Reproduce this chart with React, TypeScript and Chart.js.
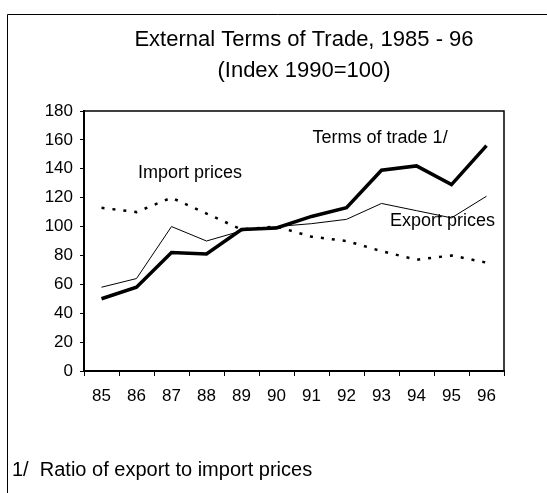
import React, { useEffect, useRef } from "react";
import { Chart, registerables } from "chart.js";

Chart.register(...registerables);

const years = ["85", "86", "87", "88", "89", "90", "91", "92", "93", "94", "95", "96"];
const termsOfTrade = [50, 58, 82, 81, 98, 99, 107, 113, 139, 142, 129, 156];
const exportPrices = [58, 64, 100, 90, 97, 100, 102, 105, 116, 111, 106, 121];
const importPrices = [113, 110, 120, 109, 98, 100, 93, 90, 83, 77, 80, 75];

const titleText = "External Terms of Trade, 1985 - 96";
const subtitleText = "(Index 1990=100)";
const footnoteText = "1/  Ratio of export to import prices";

// series labels placed in data coordinates (category index, value)
const seriesLabels = [
  { text: "Terms of trade 1/", idx: 7.96, val: 161 },
  { text: "Import prices", idx: 2.53, val: 137 },
  { text: "Export prices", idx: 9.74, val: 104 },
];

const FONT = "'Liberation Sans', Arial, sans-serif";

const textPlugin = {
  id: "texts",
  afterDraw(chart: any) {
    const ctx = chart.ctx;
    const { top, right, bottom, left } = chart.chartArea;
    ctx.save();
    // plot box top and right
    ctx.strokeStyle = "#000";
    ctx.lineWidth = 1.5;
    ctx.beginPath();
    ctx.moveTo(left, top);
    ctx.lineTo(right, top);
    ctx.lineTo(right, bottom);
    ctx.stroke();

    // outer frame
    ctx.lineWidth = 1;
    ctx.beginPath();
    ctx.moveTo(7.5, 493);
    ctx.lineTo(7.5, 14.5);
    ctx.lineTo(547, 14.5);
    ctx.stroke();

    ctx.fillStyle = "#000";
    ctx.textAlign = "center";
    ctx.textBaseline = "alphabetic";
    ctx.font = `22px ${FONT}`;
    ctx.fillText(titleText, 304, 46);
    ctx.fillText(subtitleText, 304, 77);

    ctx.font = `18px ${FONT}`;
    ctx.textBaseline = "middle";
    const xs = chart.scales.x;
    const ys = chart.scales.y;
    for (const l of seriesLabels) {
      ctx.fillText(l.text, xs.getPixelForValue(l.idx), ys.getPixelForValue(l.val));
    }

    ctx.textAlign = "left";
    ctx.textBaseline = "alphabetic";
    ctx.font = `20px ${FONT}`;
    ctx.fillText(footnoteText, 12, 476);
    ctx.restore();
  },
};

export default function App() {
  const ref = useRef<HTMLCanvasElement>(null);
  useEffect(() => {
    if (!ref.current) return;
    const chart = new Chart(ref.current, {
      type: "line",
      data: {
        labels: years,
        datasets: [
          {
            label: "Terms of trade 1/",
            data: termsOfTrade,
            borderColor: "#000",
            borderWidth: 3.5,
            pointRadius: 0,
            tension: 0,
          },
          {
            label: "Export prices",
            data: exportPrices,
            borderColor: "#000",
            borderWidth: 1,
            pointRadius: 0,
            tension: 0,
          },
          {
            label: "Import prices",
            data: importPrices,
            borderColor: "#000",
            borderWidth: 2.5,
            borderDash: [3, 8],
            pointRadius: 0,
            tension: 0,
          },
        ],
      },
      options: {
        responsive: false,
        animation: false,
        devicePixelRatio: 1,
        layout: { padding: { top: 111, right: 43, left: 0, bottom: 0 } },
        plugins: {
          legend: { display: false },
          title: { display: false },
          tooltip: { enabled: false },
        },
        scales: {
          x: {
            offset: true,
            grid: {
              offset: true,
              drawOnChartArea: false,
              drawTicks: true,
              tickLength: 5,
              color: "#000",
            },
            border: { display: true, color: "#000", width: 2 },
            ticks: {
              color: "#000",
              font: { family: FONT, size: 17 },
              padding: 10,
              maxRotation: 0,
            },
            afterFit(scale: any) {
              scale.height = 122;
            },
          },
          y: {
            min: 0,
            max: 180,
            ticks: {
              stepSize: 20,
              color: "#000",
              font: { family: FONT, size: 17 },
              padding: 7,
            },
            grid: {
              drawOnChartArea: false,
              drawTicks: true,
              tickLength: 4,
              color: "#000",
            },
            border: { display: true, color: "#000", width: 2 },
            afterFit(scale: any) {
              scale.width = 84;
            },
          },
        },
      },
      plugins: [textPlugin],
    });
    return () => chart.destroy();
  }, []);
  return (
    <div style={{ position: "fixed", left: 0, top: 0, width: 547, height: 493, background: "#fff" }}>
      <canvas ref={ref} width={547} height={493} style={{ display: "block" }} />
    </div>
  );
}
